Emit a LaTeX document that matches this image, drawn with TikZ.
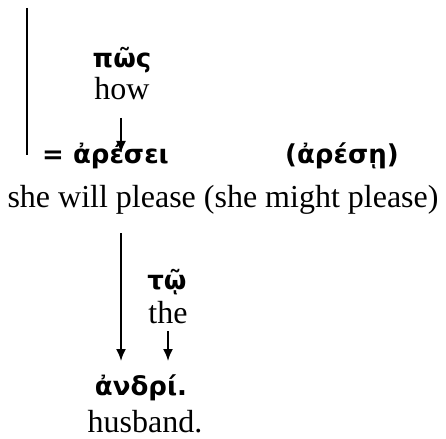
\documentclass[tikz,border=0pt]{standalone}
\usepackage{fontspec}
\setmainfont{Liberation Serif}
\newfontfamily\grk{DejaVu Sans}
\usetikzlibrary{arrows.meta}
\tikzset{
  gk/.style={font=\grk\bfseries\fontsize{26}{30}\selectfont, inner sep=0pt, anchor=base},
  en/.style={font=\fontsize{32}{36}\selectfont, inner sep=0pt, anchor=base},
  arr/.style={line width=1.8pt, -{Latex[length=12pt,width=10pt]}},
  bar/.style={line width=1.8pt}
}
\begin{document}
\begin{tikzpicture}[x=1pt,y=-1pt]
\fill[white] (0,0) rectangle (446,438);
\useasboundingbox (0,0) rectangle (446,438);
\node[gk] (pos) at (122,68) {πῶς};
\node[en] (how) at (122,100) {how};
\node[gk, anchor=base west] (ares) at (42,164) {= ἀρέσει};
\node[gk, anchor=base west] (aresalt) at (285,164) {(ἀρέσῃ)};
\node[en] (she) at (223,207) {she will please (she might please)};
\node[gk] (to) at (167,289) {τῷ};
\node[en] (the) at (168,323) {the};
\node[gk] (andri) at (141,395) {ἀνδρί.};
\node[en] (hus) at (145,432) {husband.};
\coordinate (bartop) at (27,8);
\coordinate (barbot) at (27,155);
\coordinate (a1s) at (121,118);
\coordinate (a1e) at (121,153);
\coordinate (a2s) at (121,233);
\coordinate (a2e) at (121,361);
\coordinate (a3s) at (168,331);
\coordinate (a3e) at (168,361);
\draw[bar] (bartop) -- (barbot);
\draw[arr] (a1s) -- (a1e);
\draw[arr] (a2s) -- (a2e);
\draw[arr] (a3s) -- (a3e);
\end{tikzpicture}
\end{document}
